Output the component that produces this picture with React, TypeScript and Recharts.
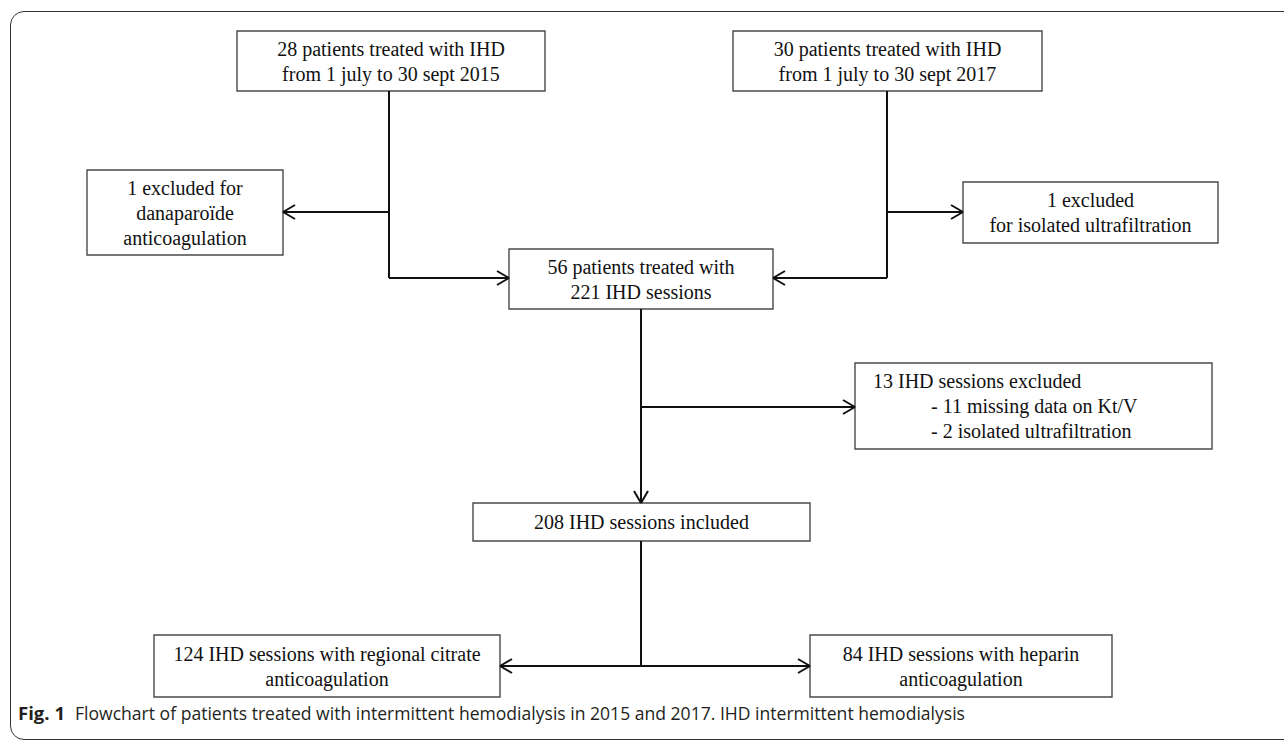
import React from 'react';
import { ScatterChart, XAxis, YAxis, ReferenceArea, ReferenceLine, Scatter } from 'recharts';

const W = 1284;
const H = 741;

// boxes of the flowchart, in the figure's own grid (x right, y down)
const boxLines = [
  ['28 patients treated with IHD', 'from 1 july to 30 sept 2015'],
  ['30 patients treated with IHD', 'from 1 july to 30 sept 2017'],
  ['1 excluded for', 'danaparoïde', 'anticoagulation'],
  ['1 excluded', 'for isolated ultrafiltration'],
  ['56 patients treated with', '221 IHD sessions'],
  ['13 IHD sessions excluded', '- 11 missing data on Kt/V', '- 2 isolated ultrafiltration'],
  ['208 IHD sessions included'],
  ['124 IHD sessions with regional citrate', 'anticoagulation'],
  ['84 IHD sessions with heparin', 'anticoagulation'],
];
const boxLeft = [237, 733, 87, 963, 509, 855, 473, 154, 810];
const boxRight = [545, 1042, 283, 1218, 773, 1212, 810, 500, 1112];
const boxTop = [31, 31, 170, 182, 249, 363, 503, 635, 635];
const boxBottom = [91, 91, 255, 243, 309, 449, 541, 697, 697];
// left-aligned box (exclusion of sessions): text indent per line
const leftAligned = [false, false, false, false, false, true, false, false, false];
const lineIndent = [18, 76, 76];

// connectors: polylines, last point gets an arrow head when arrow is true
const paths = [
  { pts: [[389, 91], [389, 278], [509, 278]], arrow: true },
  { pts: [[389, 212], [283, 212]], arrow: true },
  { pts: [[887, 91], [887, 278], [773, 278]], arrow: true },
  { pts: [[887, 212], [963, 212]], arrow: true },
  { pts: [[641, 309], [641, 503]], arrow: true },
  { pts: [[641, 407], [855, 407]], arrow: true },
  { pts: [[641, 541], [641, 666]], arrow: false },
  { pts: [[641, 666], [500, 666]], arrow: true },
  { pts: [[641, 666], [810, 666]], arrow: true },
];

const caption = 'Flowchart of patients treated with intermittent hemodialysis in 2015 and 2017. IHD intermittent hemodialysis';

const LINE_GAP = 25;

const textPoints = boxLines.flatMap((lines, b) => {
  const mid = (boxTop[b] + boxBottom[b]) / 2;
  return lines.map((t, i) => ({
    x: leftAligned[b] ? boxLeft[b] + lineIndent[i] : (boxLeft[b] + boxRight[b]) / 2,
    y: mid + (i - (lines.length - 1) / 2) * LINE_GAP,
    text: t,
    anchor: leftAligned[b] ? 'start' : 'middle',
  }));
});

const segments: { a: number[]; b: number[] }[] = [];
paths.forEach((p) => {
  for (let i = 1; i < p.pts.length; i++) segments.push({ a: p.pts[i - 1], b: p.pts[i] });
  if (p.arrow) {
    const tip = p.pts[p.pts.length - 1];
    const prev = p.pts[p.pts.length - 2];
    const len = Math.hypot(tip[0] - prev[0], tip[1] - prev[1]);
    const dx = (tip[0] - prev[0]) / len;
    const dy = (tip[1] - prev[1]) / len;
    const back = 12, half = 7;
    segments.push({ a: [tip[0] - back * dx - half * dy, tip[1] - back * dy + half * dx], b: tip });
    segments.push({ a: [tip[0] - back * dx + half * dy, tip[1] - back * dy - half * dx], b: tip });
  }
});

const captionPoints = [
  { x: 18, y: 720, text: 'Fig. 1', bold: true, len: 47 },
  { x: 75, y: 720, text: caption, bold: false, len: 890 },
];

const BoxText = (props: any) => {
  const { cx, cy, payload } = props;
  return (
    <text x={cx} y={cy} textAnchor={payload.anchor} dominantBaseline="central"
      fontFamily="'Liberation Serif', 'Times New Roman', serif" fontSize={20} fill="#111">
      {payload.text}
    </text>
  );
};

const CaptionText = (props: any) => {
  const { cx, cy, payload } = props;
  return (
    <text x={cx} y={cy} fontFamily="'Open Sans', 'Noto Sans', sans-serif" fontSize={18}
      fontWeight={payload.bold ? 700 : 400} fill="#231f20"
      textLength={payload.len} lengthAdjust="spacingAndGlyphs">
      {payload.text}
    </text>
  );
};

export default function App() {
  return (
    <div style={{ position: 'fixed', left: 0, top: 0, width: W, height: H, overflow: 'hidden', background: '#fff' }}>
      <div style={{ position: 'absolute', left: 10, top: 11, width: 1320, height: 727, border: '1.5px solid #333', borderRadius: 14 }} />
      <div style={{ position: 'absolute', left: 0, top: 0 }}>
        <ScatterChart width={W} height={H} margin={{ top: 0, right: 0, bottom: 0, left: 0 }}>
          <XAxis type="number" dataKey="x" domain={[0, W]} hide />
          <YAxis type="number" dataKey="y" domain={[0, H]} reversed hide />
          {segments.map((s, i) => (
            <ReferenceLine key={'s' + i} segment={[{ x: s.a[0], y: s.a[1] }, { x: s.b[0], y: s.b[1] }]}
              stroke="#111" strokeWidth={2} ifOverflow="visible" />
          ))}
          {boxLines.map((_, b) => (
            <ReferenceArea key={'b' + b} x1={boxLeft[b]} x2={boxRight[b]} y1={boxTop[b]} y2={boxBottom[b]}
              fill="#fff" fillOpacity={1} stroke="#4a4a4a" strokeWidth={1.4} ifOverflow="visible" />
          ))}
          <Scatter data={textPoints} shape={BoxText} isAnimationActive={false} />
          <Scatter data={captionPoints} shape={CaptionText} isAnimationActive={false} />
        </ScatterChart>
      </div>
    </div>
  );
}
